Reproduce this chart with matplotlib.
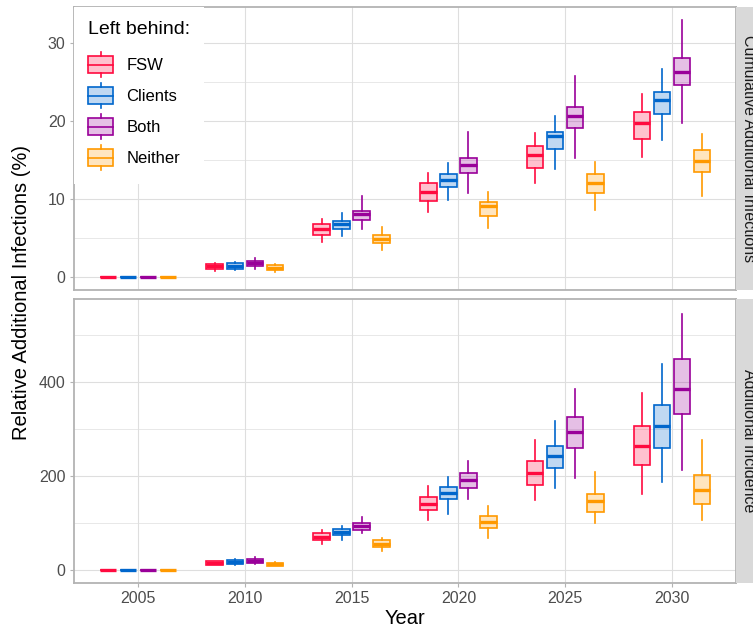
import matplotlib
matplotlib.use("Agg")
import matplotlib.pyplot as plt
from matplotlib.colors import to_rgba
from matplotlib.legend_handler import HandlerBase
from matplotlib.lines import Line2D
from matplotlib.patches import Patch, Rectangle

plt.rcParams["font.family"] = ["Liberation Sans", "DejaVu Sans"]

# Data: one row per year, (whisker low, q1, median, q3, whisker high)
years = [2005, 2010, 2015, 2020, 2025, 2030]
groups = ["FSW", "Clients", "Both", "Neither"]
colours = ["#FF0A3F", "#0066CC", "#990099", "#FF9900"]
facets = ["Cumulative Additional Infections", "Additional Incidence"]

cum_fsw = [(0, 0, 0, 0, 0), (0.8, 1.06, 1.37, 1.67, 1.83),
           (4.5, 5.4, 6.2, 6.8, 7.5), (8.4, 9.8, 10.9, 12.1, 13.3),
           (12.0, 14.0, 15.6, 16.8, 18.4), (15.4, 17.7, 19.8, 21.2, 23.5)]
cum_clients = [(0, 0, 0, 0, 0), (0.9, 1.1, 1.45, 1.75, 2.0),
               (5.3, 6.2, 6.8, 7.2, 8.2), (9.9, 11.5, 12.4, 13.2, 14.6),
               (13.9, 16.4, 18.1, 18.6, 20.6), (17.6, 20.9, 22.7, 23.7, 26.6)]
cum_both = [(0, 0, 0, 0, 0), (1.06, 1.4, 1.75, 2.1, 2.4),
            (6.2, 7.3, 8.1, 8.5, 10.4), (10.8, 13.4, 14.4, 15.3, 18.6),
            (15.3, 19.1, 20.6, 21.8, 25.8), (19.7, 24.6, 26.3, 28.1, 32.9)]
cum_neither = [(0, 0, 0, 0, 0), (0.64, 0.9, 1.2, 1.5, 1.67),
               (3.5, 4.4, 4.9, 5.4, 6.45), (6.3, 7.8, 9.1, 9.6, 10.9),
               (8.6, 10.8, 12.0, 13.2, 14.8), (10.4, 13.5, 14.9, 16.3, 18.3)]

inc_fsw = [(0, 0, 0, 0, 0), (10, 11.3, 14.8, 18.4, 20),
           (55, 63.6, 70.7, 78, 85), (106, 128, 140, 155, 179),
           (150, 182, 206, 232, 277), (161, 223, 264, 307, 377)]
inc_clients = [(0, 0, 0, 0, 0), (11, 12.7, 17, 20.6, 23),
               (65, 74, 80.6, 87, 93), (120, 151, 164, 177, 199),
               (175, 218, 243, 264, 318), (188, 259, 307, 352, 438)]
inc_both = [(0, 0, 0, 0, 0), (14, 15.5, 19.8, 24, 27),
            (79, 86, 93, 100, 114), (151, 175, 192, 206, 233),
            (197, 259, 294, 325, 385), (213, 332, 385, 449, 546)]
inc_neither = [(0, 0, 0, 0, 0), (8, 9.2, 12.7, 15.5, 17),
               (41, 49.5, 56.5, 63.6, 69), (68, 89, 103, 114.5, 137),
               (100, 123, 146, 163, 209), (106, 140, 171, 202, 277)]

GRID = "#DEDEDE"
BORDER = "#B3B3B3"
TICKTEXT = "#4D4D4D"
W, H = 753, 630


class BoxKey(HandlerBase):
    """Legend key drawn as a little boxplot"""
    def create_artists(self, legend, orig_handle, xdescent, ydescent,
                       width, height, fontsize, trans):
        edge = orig_handle.get_edgecolor()
        face = orig_handle.get_facecolor()
        x0, y0 = -xdescent, -ydescent
        xm = x0 + width / 2
        box = Rectangle((x0, y0 + 0.16 * height), width, 0.68 * height,
                        facecolor=face, edgecolor=edge, lw=1.2,
                        transform=trans)
        med = Line2D([x0, x0 + width], [y0 + 0.5 * height] * 2,
                     color=edge, lw=1.2, transform=trans)
        lo = Line2D([xm, xm], [y0, y0 + 0.16 * height], color=edge, lw=1.2,
                    transform=trans)
        hi = Line2D([xm, xm], [y0 + 0.84 * height, y0 + height], color=edge,
                    lw=1.2, transform=trans)
        return [box, med, lo, hi]


def style_panel(ax, ylim, major, minor):
    ax.set_xlim(2002, 2033)
    ax.set_ylim(*ylim)
    ax.set_yticks(major)
    ax.set_yticks(minor, minor=True)
    ax.set_xticks(years)
    ax.set_axisbelow(True)
    ax.grid(True, which="major", color=GRID, lw=0.8)
    ax.grid(True, which="minor", axis="y", color=GRID, lw=0.5)
    for sp in ax.spines.values():
        sp.set_color(BORDER)
        sp.set_linewidth(1.3)
    ax.tick_params(which="major", length=3, width=0.8, color=BORDER,
                   labelsize=11.5, labelcolor=TICKTEXT, pad=3)
    ax.tick_params(which="minor", length=0)


def draw_boxes(ax, series):
    n = len(groups)
    for i, (rows, colour) in enumerate(zip(series, colours)):
        stats = [dict(whislo=r[0], q1=r[1], med=r[2], q3=r[3], whishi=r[4],
                      fliers=[]) for r in rows]
        pos = [y + (i - (n - 1) / 2) * 0.9375 for y in years]
        ax.bxp(stats, positions=pos, widths=0.78, showfliers=False,
               showcaps=False, patch_artist=True, manage_ticks=False,
               boxprops=dict(facecolor=to_rgba(colour, 0.25),
                             edgecolor=colour, linewidth=1.2),
               medianprops=dict(color=colour, linewidth=2.4,
                                solid_capstyle="butt"),
               whiskerprops=dict(color=colour, linewidth=1.2), zorder=3)


def add_strip(fig, top_px, bottom_px, label):
    rect = Rectangle((736 / W, 1 - bottom_px / H), 30 / W,
                     (bottom_px - top_px) / H, transform=fig.transFigure,
                     facecolor="#D9D9D9", edgecolor="none")
    fig.add_artist(rect)
    fig.text(749 / W, 1 - (top_px + bottom_px) / 2 / H, label,
             rotation=-90, ha="center", va="center", fontsize=11.5,
             color="#1A1A1A")


fig = plt.figure(figsize=(W / 100, H / 100), dpi=100)
ax_top = fig.add_axes([74 / W, 1 - 290 / H, 662 / W, 283 / H])
ax_bot = fig.add_axes([74 / W, 1 - 583 / H, 662 / W, 284 / H])

draw_boxes(ax_top, [cum_fsw, cum_clients, cum_both, cum_neither])
draw_boxes(ax_bot, [inc_fsw, inc_clients, inc_both, inc_neither])

style_panel(ax_top, (-1.65, 34.6), [0, 10, 20, 30], [5, 15, 25])
style_panel(ax_bot, (-27.5, 577), [0, 200, 400], [100, 300, 500])
ax_top.tick_params(axis="x", length=0, labelbottom=False)

add_strip(fig, 7, 290, facets[0])
add_strip(fig, 299, 583, facets[1])

handles = [Patch(facecolor=to_rgba(c, 0.25), edgecolor=c, label=g)
           for g, c in zip(groups, colours)]
leg = ax_top.legend(handles=handles, handler_map={Patch: BoxKey()},
                    loc="upper left", bbox_to_anchor=(0, 1),
                    borderaxespad=0, title="Left behind:",
                    title_fontsize=14, fontsize=12, alignment="left",
                    handlelength=1.5, handleheight=1.93,
                    handletextpad=0.8, labelspacing=0.36, borderpad=0.85,
                    fancybox=False, framealpha=1, facecolor="white")
leg.get_frame().set_linewidth(0)
# wider gap between the legend title and the keys
leg._legend_box.sep = 10

fig.text(405 / W, 1 - 619 / H, "Year", ha="center", va="center",
         fontsize=14.5)
fig.text(22 / W, 1 - 292 / H, "Relative Additional Infections (%)",
         rotation=90, ha="center", va="center", fontsize=14.5)

fig.savefig("out.png", dpi=100)
